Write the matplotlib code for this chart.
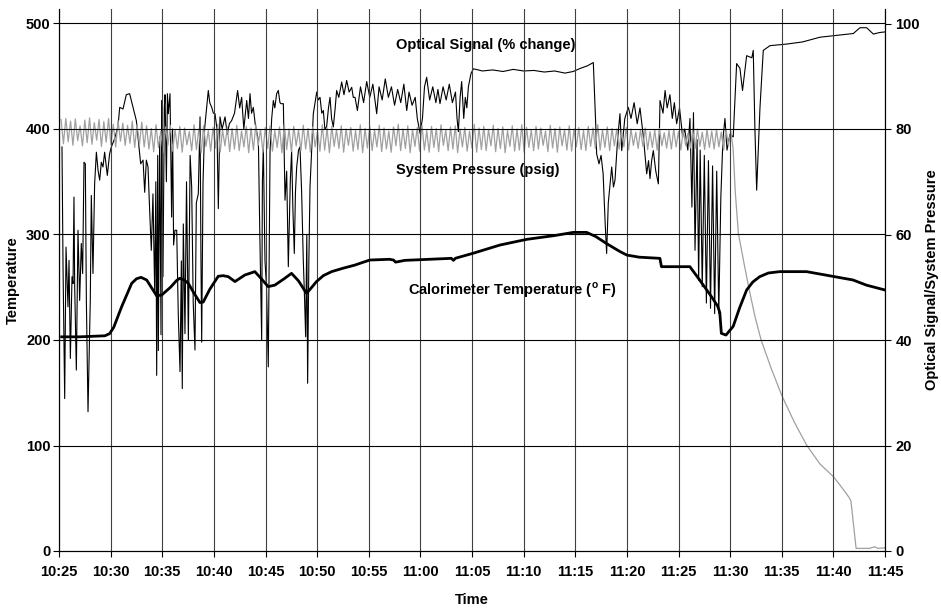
import numpy as np
import matplotlib.pyplot as plt

plt.rcParams['font.family'] = ['Liberation Sans', 'DejaVu Sans']
plt.rcParams['font.weight'] = 'bold'
plt.rcParams['mathtext.fontset'] = 'custom'
plt.rcParams['mathtext.rm'] = 'Liberation Sans:bold'

# minutes after 10:25
tick_minutes = list(range(0, 81, 5))
tick_labels = ['10:25', '10:30', '10:35', '10:40', '10:45', '10:50', '10:55', '11:00',
               '11:05', '11:10', '11:15', '11:20', '11:25', '11:30', '11:35', '11:40', '11:45']

# calorimeter temperature (F), left axis
calo_t = [0.26, 2, 4.45, 4.9, 5.3, 6.07, 7.04, 7.5, 7.94, 8.49, 9.0, 9.45, 9.94, 10.8, 11.4, 11.71,
          12.1, 12.52, 13.1, 13.65, 13.97, 14.6, 15.42, 15.9, 16.4, 17.04, 18.0, 18.97, 19.6, 20.26,
          20.9, 21.8, 22.52, 23.2, 23.97, 24.4, 24.94, 25.6, 26.4, 27.5, 28.65, 30.1,
          32.0, 32.4, 32.6, 33.5, 38.0, 38.2, 38.4, 40.1, 42.7, 45.3, 48.0, 49.8, 51.1, 52.0, 53.0,
          54.3, 55.0, 56.2, 58.2, 58.35, 61.1, 62.05, 63.2, 63.8, 64.0, 64.15, 64.6, 65.3, 65.9, 66.6,
          67.2, 67.86, 68.7, 69.8, 72.4, 76.9, 78.2, 80.0]
calo_temp = [203, 203, 204, 206, 212, 231.6, 253.7, 258, 259.4, 256.9, 249, 242, 242.6, 250, 256.5, 258.5,
             257, 253.7, 244, 235.5, 236, 248, 260.4, 261, 260, 255.4, 261.6, 264.8, 258, 250.6,
             252, 258, 263.2, 256, 244.2, 249, 255.4, 261, 264.8, 268, 271, 275.8,
             276.5, 275.8, 273.8, 275.5, 277.4, 275.5, 277.5, 282.2, 290, 295.4, 299, 302, 302, 298, 291.6,
             284, 280.5, 278.5, 277.4, 269.5, 269.5, 256.9, 241, 232, 226, 206.3, 204.7, 213, 230, 247.4,
             255, 260, 263.5, 264.8, 264.8, 256.9, 252, 247.4]

# optical signal (% change), right axis
optical_t = [0.29, 0.39, 0.55, 0.68, 0.87, 0.97, 1.10, 1.26, 1.36, 1.45, 1.52, 1.68, 1.84, 2.0,
             2.16, 2.29, 2.42, 2.55, 2.65, 2.81, 3.03, 3.13, 3.29, 3.45, 3.62, 3.78, 3.94, 4.10,
             4.26, 4.42, 4.68, 4.90, 5.07, 5.39, 5.71, 5.88, 6.2, 6.52, 6.84, 7.17, 7.49, 7.65,
             7.91, 8.14, 8.3, 8.46, 8.62, 8.78, 8.94, 9.1, 9.27, 9.38, 9.46, 9.56, 9.62, 9.75,
             9.88, 9.94, 10.07, 10.2, 10.27, 10.4, 10.5, 10.59, 10.75, 10.91, 11.0, 11.1, 11.23,
             11.4, 11.55, 11.72, 11.85, 11.94, 12.04, 12.2, 12.35, 12.53, 12.7, 12.85, 13.0, 13.17,
             13.3, 13.49, 13.66, 13.75, 13.82, 13.95, 14.1, 14.3, 14.46, 14.6, 14.79, 14.95, 15.11,
             15.3, 15.43, 15.59, 15.8, 16.08, 16.3, 16.5, 16.72, 17.0, 17.3, 17.5, 17.69, 17.9,
             18.18, 18.35, 18.5, 18.65, 18.82, 19.0, 19.31, 19.45, 19.63, 19.7, 19.79, 19.95, 20.1,
             20.27, 20.44, 20.6, 20.76, 20.9, 21.08, 21.24, 21.4, 21.5, 21.73, 21.89, 22.05, 22.21,
             22.4, 22.53, 22.65, 22.79, 22.9, 23.02, 23.2, 23.34, 23.5, 23.66, 23.78, 23.89, 24.0,
             24.08, 24.2, 24.31, 24.45, 24.63, 24.8, 24.96, 25.1, 25.28, 25.45, 25.6, 25.75, 25.92,
             26.1, 26.25, 26.4, 26.57, 26.75, 26.89, 27.1, 27.38, 27.6, 27.86, 28.1, 28.35, 28.5,
             28.67, 28.9, 29.2, 29.5, 29.8, 30.1, 30.4, 30.77, 31.0, 31.3, 31.6, 31.9, 32.2, 32.5,
             32.8, 33.1, 33.4, 33.68, 33.9, 34.2, 34.5, 34.7, 34.97, 35.2, 35.4, 35.61, 35.9, 36.2,
             36.5, 36.7, 36.9, 37.2, 37.5, 37.8, 38.1, 38.4, 38.55, 38.68, 38.85, 39.0, 39.2, 39.35,
             39.5, 39.65, 39.9, 40.13, 40.4, 41, 42, 43, 44, 45, 46, 47, 48, 49, 49.8, 50.5, 51.2,
             51.75, 52.0, 52.07, 52.3, 52.5, 52.7, 52.9, 53.04, 53.2, 53.53, 53.7, 53.85, 54.1,
             54.33, 54.5, 54.8, 55.14, 55.4, 55.7, 56.0, 56.27, 56.6, 56.92, 57.1, 57.24, 57.4,
             57.56, 57.8, 58.05, 58.21, 58.5, 58.7, 58.9, 59.17, 59.4, 59.6, 59.82, 60.1, 60.4,
             60.6, 60.9, 61.11, 61.3, 61.45, 61.6, 61.8, 61.95, 62.1, 62.3, 62.5, 62.7, 62.9, 63.1,
             63.3, 63.5, 63.7, 63.9, 64.1, 64.3, 64.5, 64.7, 64.98, 65.3, 65.63, 65.95, 66.2, 66.6,
             67.1, 67.24, 67.4, 67.57, 67.89, 68.21, 68.86, 70.47, 72, 73.7, 75.5, 76.93, 77.58,
             78.22, 78.87, 79.5, 80]
optical_val = [76.6, 53.9, 28.9, 57.6, 46.3, 55.1, 36.5, 52.0, 50.7, 67.1, 50.1, 34.3, 60.8, 47.5,
               58.3, 52.6, 73.7, 73.4, 47.5, 26.4, 47.5, 67.4, 52.6, 69.6, 75.6, 72.2, 70.3, 73.7,
               72.8, 75.6, 71.2, 75.3, 76.6, 78.2, 80.4, 84.1, 83.8, 86.5, 86.7, 84.1, 81.6, 78.5,
               73.4, 74.1, 68.0, 74.1, 72.8, 64.6, 57.0, 67.7, 48.8, 70, 33.3, 75, 38, 78.5,
               41, 85.4, 52, 84, 86.5, 70, 86.7, 82.9, 86.7, 63.3, 80, 58, 60.8,
               60.8, 45, 34, 55, 30.8, 62, 41.2, 70, 40, 75, 69.0, 47, 38.1,
               66, 67.7, 82.3, 55, 39.6, 70, 80, 84, 87.3, 85, 84.1, 83, 82.9,
               80, 64.9, 82.3, 80, 82.3, 79, 81, 81.6, 83, 87.3, 84, 86.0, 80,
               85.4, 82, 86.7, 83, 84.1, 81, 77.8, 60, 40.0, 70, 76.6, 55, 50,
               34.9, 75.9, 82, 85.4, 84, 86.7, 87.3, 85, 84.8, 84.8, 66.5, 72, 53.9,
               70, 75.9, 65, 56.4, 68, 72.8, 76, 76.6, 68, 55.1, 48, 40.6, 60,
               31.8, 55, 69.0, 75, 82.9, 85, 87.0, 85.5, 86.0, 83, 83.5, 80, 80.4,
               84, 86.0, 82, 80.4, 84, 87.3, 86, 88.9, 86.5, 89.2, 87, 87.9, 86,
               86.0, 83.5, 88, 85, 89, 86, 88.5, 82.9, 88, 85.5, 89.5, 86, 88, 84.5,
               87.5, 85, 88.5, 83.5, 87, 84.5, 86, 82, 79.2, 82, 88, 89.8, 85.5, 88,
               85, 87.5, 84.8, 88, 85.5, 88.5, 85, 87, 82, 79.5, 86, 89, 82, 86,
               84, 88, 90.5, 91.4, 91.3, 91.0, 91.2, 90.9, 91.3, 91.0, 91.1, 90.8, 91.0, 90.6, 90.9, 91.5, 92.0,
               92.6, 80, 75.3, 73.4, 75, 71.5, 62, 56.4, 66, 72.8, 69, 70.3, 78,
               82.9, 75.9, 82, 84.1, 82, 85, 81, 84, 78.5, 71.5, 74, 70.6, 74,
               75.9, 72, 69.6, 85.4, 83, 87.3, 84, 86.5, 82, 85, 81, 84, 78.5,
               80, 76, 82, 65.2, 83.1, 57, 78, 51.3, 76, 50.1, 75, 47, 74, 46,
               73, 45, 72, 45, 67, 78, 82, 76, 79, 78.5, 92.4, 91.5, 87.3, 93.9,
               93.5, 94.9, 80, 68.4, 84, 94.9, 95.8, 96.1, 96.5, 97.4, 97.8, 98.1, 99.2,
               99.2, 98.0, 98.3, 98.4]

# system pressure (psig), right axis: oscillation sampled every 0.23 min from 0.2 min
press_osc = [81.8, 77.2, 82.0, 77.6, 81.5, 76.9, 81.9, 77.8, 80.6, 76.8, 81.7, 77.4, 82.1, 77.1, 81.2, 77.9, 81.8, 76.7,
             81.4, 77.5, 82.0, 77.0, 80.9, 76.6, 81.6, 77.7, 81.1, 76.9, 80.7, 77.3, 81.5, 76.5, 80.9, 77.0, 81.3, 76.6,
             80.6, 76.2, 80.1, 75.7, 80.8, 76.5, 79.6, 75.5, 80.4, 76.9, 80.7, 75.8, 79.9, 76.3, 80.5, 75.6, 80.2, 77.0, 79.5, 75.9,
             80.8, 76.1, 80.0, 75.5, 80.6, 76.7, 79.7, 75.8, 80.3, 76.4, 80.9, 75.6, 79.8, 76.8, 80.4, 75.7, 80.1, 76.2, 80.7, 75.9,
             79.6, 76.6, 80.5, 75.5, 80.2, 76.0, 80.8, 76.9, 79.9, 75.6, 80.3, 76.3, 80.6, 75.8, 79.7, 76.5, 80.4, 75.5, 80.9, 76.1,
             80.0, 75.7, 80.5, 76.8, 79.8, 75.9, 80.7, 76.2, 80.1, 75.6, 80.4, 76.6, 79.6, 75.8, 80.8, 76.0, 80.2, 75.5, 80.5, 76.7,
             79.9, 76.3, 80.6, 75.6, 80.0, 76.9, 80.3, 75.8, 79.7, 76.1, 80.8, 75.5, 80.1, 76.4, 80.5, 75.9, 79.8, 76.6, 80.7, 75.7,
             80.2, 76.2, 79.6, 75.6, 80.4, 76.8, 80.9, 75.9, 80.0, 76.3, 80.6, 75.5, 79.9, 76.7, 80.3, 75.8, 80.7, 76.0, 79.7, 75.6,
             80.5, 76.5, 80.1, 75.7, 80.8, 76.9, 79.8, 75.9, 80.4, 76.2, 80.6, 75.5, 80.0, 76.6, 80.3, 75.8, 79.6, 76.4, 80.9, 75.6,
             80.2, 76.1, 80.5, 75.9, 79.9, 76.8, 80.7, 75.7, 80.1, 76.3, 80.4, 75.5, 79.7, 76.7, 80.6, 75.8, 80.0, 76.0, 80.8, 75.6,
             80.3, 76.5, 79.8, 75.9, 80.5, 76.2, 80.2, 76.9, 79.6, 75.7, 80.7, 76.4, 80.1, 75.6, 80.4, 76.8, 79.9, 76.0, 80.6, 75.8,
             80.0, 76.6, 80.3, 76.1, 79.7, 75.9, 80.5, 76.7, 80.2, 76.3, 80.8, 76.0, 79.8, 76.5, 80.4, 75.9, 80.1, 76.8, 80.0, 76.2,
             79.6, 76.6, 80.3, 76.0, 80.0, 76.9, 79.4, 76.3, 79.9, 76.7, 80.2, 76.1, 79.5, 76.5, 79.8, 76.0, 80.1, 76.8, 79.3, 76.4,
             79.7, 76.2, 80.0, 76.6, 79.5, 76.0, 79.9, 76.9, 79.2, 76.4, 79.8, 76.3, 80.0, 76.7, 79.4, 76.1, 79.9, 76.5, 79.6, 76.2,
             79.9, 76.6, 79.4, 76.0, 80.0, 76.8, 79.6, 76.3]
# venting after 11:30
vent_t = [65.5, 65.8, 66.3, 66.8, 67.4, 68.0, 69.0, 70.0, 71.2, 72.4, 73.7, 75.0, 75.6, 76.25, 76.5,
          76.7, 77.2, 78.5, 79.0, 79.3, 80.0]
vent_p = [68, 60.2, 55, 50, 44.5, 40, 34.5, 29.5, 24.5, 20.1, 16.5, 14.1, 12.6, 10.9, 10.2,
          9.5, 0.5, 0.5, 0.8, 0.5, 0.6]

press_t = list(0.2 + 0.23 * np.arange(len(press_osc))) + vent_t
press_val = press_osc + vent_p

fig = plt.figure(figsize=(9.41, 6.10), dpi=100)
ax = fig.add_axes([59 / 941, 1 - 551 / 610, 826 / 941, 542 / 610])
ax2 = ax.twinx()

ax2.plot(optical_t, optical_val, color='black', lw=0.8)
ax2.plot(press_t, press_val, color='#a0a0a0', lw=0.9)
ax.plot(calo_t, calo_temp, color='black', lw=2.0)

ax.set_zorder(ax2.get_zorder() + 1)
ax.patch.set_visible(False)

ymax = 542 / 1.055
ax.set_xlim(0, 80)
ax.set_ylim(0, ymax)
ax2.set_ylim(0, ymax / 5)
ax.set_xticks(tick_minutes)
ax.set_xticklabels(tick_labels)
ax.set_yticks(range(0, 501, 100))
ax2.set_yticks(range(0, 101, 20))

for t in tick_minutes:
    ax.axvline(t, color='#404040', lw=0.8, zorder=0)
for v in range(100, 501, 100):
    ax.axhline(v, color='black', lw=0.8, zorder=0)

for a in (ax, ax2):
    a.spines['top'].set_visible(False)
    a.tick_params(labelsize=10.5, length=4, width=0.8)
ax.tick_params(axis='x', pad=6)
ax.tick_params(axis='y', pad=2)

ax.set_xlabel('Time', fontsize=10.5, fontweight='bold', labelpad=10)
ax.set_ylabel('Temperature', fontsize=10.5, fontweight='bold')
ax.yaxis.set_label_coords(-0.047, 0.5)
ax2.set_ylabel('Optical Signal/System Pressure', fontsize=10.5, fontweight='bold')

ax.text(41.3, 480, 'Optical Signal (% change)', ha='center', va='center', fontsize=10.5, fontweight='bold')
ax.text(40.6, 361, 'System Pressure (psig)', ha='center', va='center', fontsize=10.5, fontweight='bold')
ax.text(43.9, 247, r'Calorimeter Temperature ($^{\mathrm{o}}$ F)', ha='center', va='center',
        fontsize=10.5, fontweight='bold')

fig.savefig('out.png', dpi=100)
